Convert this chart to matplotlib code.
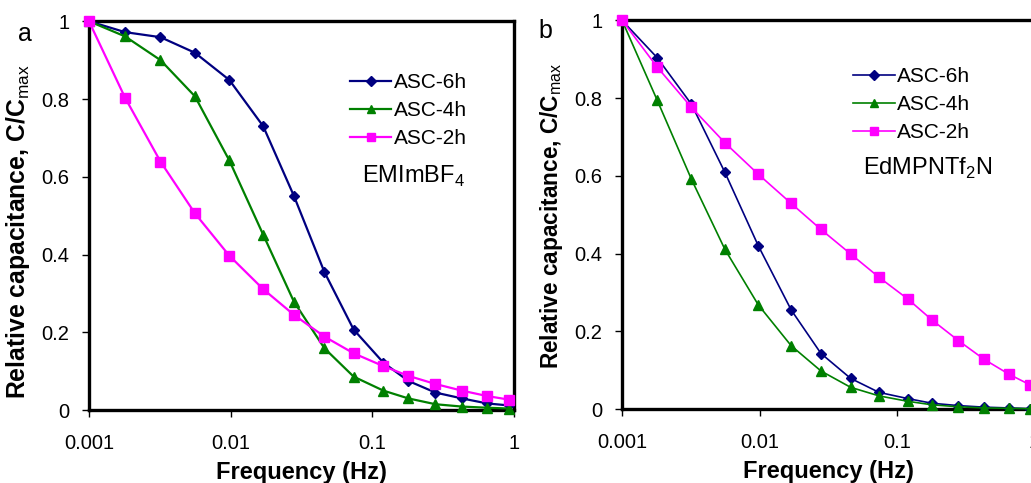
import matplotlib
matplotlib.use("Agg")
import matplotlib.pyplot as plt
from matplotlib.ticker import FixedLocator, FuncFormatter, NullLocator

plt.rcParams['font.family'] = ['Liberation Sans', 'DejaVu Sans']
plt.rcParams['mathtext.fontset'] = 'custom'
plt.rcParams['mathtext.rm'] = 'Liberation Sans'
plt.rcParams['mathtext.bf'] = 'Liberation Sans:bold'

# frequencies (Hz), shared by both panels
freq = [0.001, 0.0018, 0.0032, 0.0056, 0.0098, 0.017, 0.028, 0.046,
        0.074, 0.12, 0.18, 0.28, 0.43, 0.65, 0.92]

# panel a: EMImBF4
a_6h = [1.0, 0.972, 0.959, 0.919, 0.849, 0.730, 0.551, 0.355, 0.207,
        0.122, 0.075, 0.045, 0.030, 0.017, 0.012]
a_4h = [1.0, 0.961, 0.900, 0.807, 0.642, 0.451, 0.279, 0.159, 0.086,
        0.050, 0.030, 0.015, 0.009, 0.006, 0.004]
a_2h = [1.0, 0.803, 0.639, 0.506, 0.397, 0.311, 0.245, 0.189, 0.146,
        0.113, 0.088, 0.067, 0.050, 0.036, 0.027]

# panel b: EdMPNTf2N
b_6h = [1.0, 0.904, 0.784, 0.609, 0.420, 0.255, 0.143, 0.079, 0.043,
        0.027, 0.015, 0.009, 0.005, 0.003, 0.001]
b_4h = [1.0, 0.795, 0.591, 0.411, 0.268, 0.163, 0.098, 0.056, 0.034,
        0.020, 0.011, 0.006, 0.003, 0.002, 0.001]
b_2h = [1.0, 0.880, 0.776, 0.685, 0.604, 0.529, 0.462, 0.399, 0.339,
        0.283, 0.229, 0.176, 0.128, 0.090, 0.063]

series_labels = ['ASC-6h', 'ASC-4h', 'ASC-2h']
colors = ['#000080', '#008000', '#FF00FF']
markers = ['D', '^', 's']
msizes = [5.5, 7.5, 7.5]

fig = plt.figure(figsize=(10.31, 4.83), dpi=100)
ax_a = fig.add_axes([0.0863, 0.151, 0.412, 0.805])
ax_b = fig.add_axes([0.6033, 0.153, 0.4001, 0.805])


def draw_panel(ax, data, lw, ylab_size, ylab_pos, legend_pos, name,
               name_pos, name_ha):
    for y, lab, c, m, ms in zip(data, series_labels, colors, markers, msizes):
        ax.plot(freq, y, color=c, marker=m, markersize=ms, linewidth=lw,
                label=lab, clip_on=False, zorder=3)
    ax.set_xscale('log')
    ax.set_xlim(0.001, 1)
    ax.set_ylim(0, 1)
    ax.xaxis.set_major_locator(FixedLocator([0.001, 0.01, 0.1, 1]))
    ax.xaxis.set_minor_locator(NullLocator())
    ax.xaxis.set_major_formatter(FuncFormatter(lambda v, p: '%g' % v))
    ax.yaxis.set_major_locator(FixedLocator([0, 0.2, 0.4, 0.6, 0.8, 1]))
    ax.yaxis.set_major_formatter(FuncFormatter(lambda v, p: '%g' % v))
    ax.tick_params(labelsize=14.5, length=5, width=1, direction='out')
    ax.tick_params(axis='x', pad=12)
    ax.tick_params(axis='y', pad=9)
    for s in ax.spines.values():
        s.set_linewidth(2.4)
    ax.set_xlabel('Frequency (Hz)', fontsize=17, fontweight='bold', labelpad=6)
    ax.set_ylabel(r'Relative capacitance, C/C$_{\mathrm{max}}$',
                  fontsize=ylab_size, fontweight='bold')
    ax.yaxis.set_label_coords(*ylab_pos)
    ax.legend(loc='upper left', bbox_to_anchor=legend_pos, frameon=False,
              fontsize=15, handlelength=2.0, handletextpad=0.1,
              labelspacing=0.43, borderpad=0, borderaxespad=0,
              markerscale=0.85)
    ax.text(name_pos[0], name_pos[1], name, transform=ax.transAxes,
            fontsize=17, ha=name_ha, va='center')


draw_panel(ax_a, [a_6h, a_4h, a_2h], 1.6, 17.8, (-0.134, 0.46),
           (0.614, 0.867), r'EMImBF$_4$', (0.885, 0.60), 'right')
draw_panel(ax_b, [b_6h, b_4h, b_2h], 1.2, 16.3, (-0.138, 0.496),
           (0.56, 0.88), r'EdMPNTf$_2$N', (0.584, 0.62), 'left')

fig.text(0.017, 0.930, 'a', fontsize=18, va='center')
fig.text(0.522, 0.935, 'b', fontsize=18, va='center')

fig.savefig('out.png', dpi=100)
